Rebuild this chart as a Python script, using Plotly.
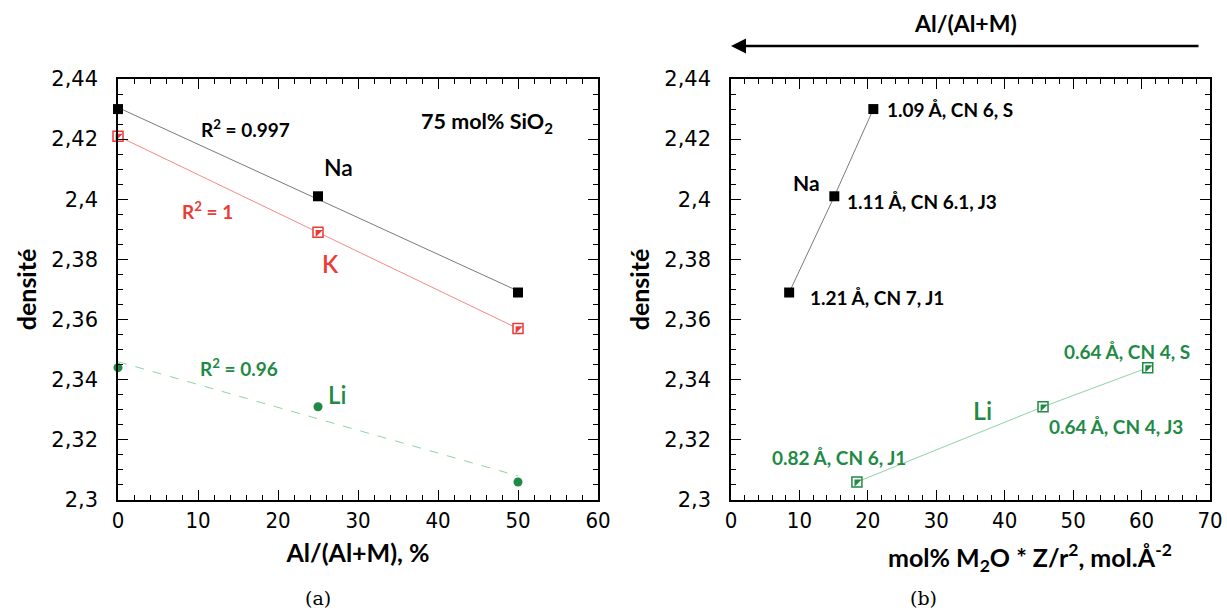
import numpy as np
import plotly.graph_objects as go

# ---------------- data ----------------
al_frac = [0, 25, 50]                       # Al/(Al+M), %
na_dens = [2.430, 2.401, 2.369]
k_dens = [2.421, 2.389, 2.357]
li_dens = [2.344, 2.331, 2.306]

na_field = [8.5, 15.1, 20.8]                # mol% M2O * Z/r^2
li_field = [18.4, 45.6, 60.9]

na_labels = ["1.21 Å, CN 7, J1", "1.11 Å, CN 6.1, J3", "1.09 Å, CN 6, S"]
li_labels = ["0.82 Å, CN 6, J1", "0.64 Å, CN 4, J3", "0.64 Å, CN 4, S"]

y_tickvals = [2.3, 2.32, 2.34, 2.36, 2.38, 2.4, 2.42, 2.44]
y_ticktext = ["2,3", "2,32", "2,34", "2,36", "2,38", "2,4", "2,42", "2,44"]

# ---------------- style ----------------
BLACK = "#000000"
RED = "#ee3a36"
GREEN = "#1f8a45"
W, H = 1227, 610
BOLD = "Lato"
NARROW = "Liberation Sans Narrow, DejaVu Sans Condensed, Roboto, sans-serif"


def px(x):
    return x / W


def py(y):
    return 1 - y / H


fig = go.Figure()


def fit_line(x, y):
    c = np.polyfit(x, y, 1)
    xs = np.array([min(x), max(x)], dtype=float)
    return xs, np.polyval(c, xs)


# ---- panel (a) ----
for ys, lc, dash in [(na_dens, "#7a7a7a", "solid"), (k_dens, "#f58a85", "solid"),
                     (li_dens, "#8fd3a0", "dash")]:
    xs, yf = fit_line(al_frac, ys)
    fig.add_trace(go.Scatter(x=xs, y=yf, mode="lines", xaxis="x", yaxis="y",
                             line=dict(color=lc, width=1, dash=dash), showlegend=False,
                             hoverinfo="skip"))

fig.add_trace(go.Scatter(x=al_frac, y=na_dens, mode="markers", xaxis="x", yaxis="y",
                         cliponaxis=False,
                         marker=dict(symbol="square", size=10, color=BLACK), showlegend=False))
fig.add_trace(go.Scatter(x=al_frac, y=k_dens, mode="markers", xaxis="x", yaxis="y",
                         cliponaxis=False,
                         marker=dict(symbol="square", size=10, color="white",
                                     line=dict(color=RED, width=1.5)), showlegend=False))
fig.add_trace(go.Scatter(x=al_frac, y=k_dens, mode="markers", xaxis="x", yaxis="y",
                         cliponaxis=False,
                         marker=dict(symbol="triangle-nw", size=8, color=RED,
                                     line=dict(width=0)), showlegend=False))
fig.add_trace(go.Scatter(x=al_frac, y=li_dens, mode="markers", xaxis="x", yaxis="y",
                         cliponaxis=False,
                         marker=dict(symbol="circle", size=9, color=GREEN), showlegend=False))

# ---- panel (b) ----
fig.add_trace(go.Scatter(x=na_field, y=na_dens[::-1], mode="lines+markers", xaxis="x2", yaxis="y2",
                         line=dict(color="#7a7a7a", width=1),
                         marker=dict(symbol="square", size=10, color=BLACK), showlegend=False))
fig.add_trace(go.Scatter(x=li_field, y=li_dens[::-1], mode="lines", xaxis="x2", yaxis="y2",
                         line=dict(color="#8fd3a0", width=1), showlegend=False))
fig.add_trace(go.Scatter(x=li_field, y=li_dens[::-1], mode="markers", xaxis="x2", yaxis="y2",
                         marker=dict(symbol="square", size=10, color="white",
                                     line=dict(color=GREEN, width=1.5)), showlegend=False))
fig.add_trace(go.Scatter(x=li_field, y=li_dens[::-1], mode="markers", xaxis="x2", yaxis="y2",
                         marker=dict(symbol="triangle-nw", size=8, color=GREEN,
                                     line=dict(width=0)), showlegend=False))

y_minor = np.round(np.arange(2.3, 2.4401, 0.005), 4)

common_x = dict(showline=True, linecolor=BLACK, linewidth=1.5, mirror="allticks",
                ticks="inside", ticklen=10, tickwidth=1.2, tickcolor=BLACK,
                showgrid=False, zeroline=False, automargin=False,
                tickfont=dict(family=NARROW, size=22, color=BLACK),
                minor=dict(ticks="inside", ticklen=5, dtick=2, tickcolor=BLACK, tickwidth=1,
                           showgrid=False))
common_y = dict(showline=True, linecolor=BLACK, linewidth=1.5, mirror="allticks",
                ticks="inside", ticklen=10, tickwidth=1.2, tickcolor=BLACK,
                showgrid=False, zeroline=False, range=[2.3, 2.44], automargin=False,
                tickmode="array", tickvals=y_tickvals, ticktext=y_ticktext,
                tickfont=dict(family="DejaVu Sans", size=21, color=BLACK),
                minor=dict(ticks="inside", ticklen=5, tickmode="array", tickvals=y_minor,
                           tickcolor=BLACK, tickwidth=1, showgrid=False),
                ticklabelstandoff=14)

title_font = dict(family=BOLD, size=25, color=BLACK, weight="bold")

fig.update_layout(
    width=W, height=H,
    margin=dict(l=0, r=0, t=0, b=0, autoexpand=False),
    paper_bgcolor="white", plot_bgcolor="white",
    xaxis=dict(common_x, domain=[px(118), px(598)], range=[0, 60], dtick=10,
               anchor="y",
               title=dict(text="Al/(Al+M), %", font=title_font, standoff=12)),
    yaxis=dict(common_y, domain=[py(500), py(79)], anchor="x",
               title=dict(text="densité", font=title_font, standoff=8)),
    xaxis2=dict(common_x, domain=[px(731), px(1210)], range=[0, 70], dtick=10,
                anchor="y2"),
    yaxis2=dict(common_y, domain=[py(500), py(79)], anchor="x2",
                title=dict(text="densité", font=title_font, standoff=8)),
)

ann = []


def txt(x, y, t, color, size, xref="x", yref="y", xanchor="center", weight="bold", family=BOLD):
    ann.append(dict(x=x, y=y, xref=xref, yref=yref, text=t, showarrow=False,
                    xanchor=xanchor, yanchor="middle",
                    font=dict(family=family, size=size, color=color, weight=weight)))


# panel (a) labels
txt(15.9, 2.4237, "R<sup>2</sup> = 0.997", BLACK, 19)
txt(46.1, 2.4255, "75 mol% SiO<sub>2</sub>", BLACK, 21.5)
txt(27.5, 2.4106, "Na", BLACK, 23, weight=600)
txt(11.2, 2.3964, "R<sup>2</sup> = 1", RED, 19)
txt(26.5, 2.3788, "K", RED, 24, weight=600)
txt(15.1, 2.3439, "R<sup>2</sup> = 0.96", GREEN, 19)
txt(27.4, 2.3352, "Li", GREEN, 24, weight=600)

# panel (b) labels
na_lab_pos = [(11.3, 2.3675), (16.7, 2.3993), (22.5, 2.4298)]
li_lab_pos = [(5.7, 2.3143), (46.2, 2.3243), (48.4, 2.3494)]
for (x, y), t in zip(na_lab_pos, na_labels):
    txt(x, y, t, BLACK, 19, xref="x2", yref="y2", xanchor="left")
for (x, y), t in zip(li_lab_pos, li_labels):
    txt(x, y, t, GREEN, 19, xref="x2", yref="y2", xanchor="left")
txt(11.0, 2.4055, "Na", BLACK, 21, xref="x2", yref="y2")
txt(36.8, 2.3300, "Li", GREEN, 25, xref="x2", yref="y2", weight=600)

# right x-axis title (offset to the right as in the original)
txt(px(1030), py(557), "mol% M<sub>2</sub>O * Z/r<sup>2</sup>, mol.Å<sup>-2</sup>", BLACK, 25,
    xref="paper", yref="paper")

# arrow at top
ann.append(dict(x=px(731), y=py(46), xref="paper", yref="paper", ax=469, ay=0,
                text="", showarrow=True, arrowhead=2, arrowsize=1.2, arrowwidth=2.5,
                arrowcolor=BLACK))
txt(px(965), py(23), "Al/(Al+M)", BLACK, 23, xref="paper", yref="paper")

# captions
txt(px(318), py(598), "(a)", BLACK, 19, xref="paper", yref="paper", weight="normal",
    family="DejaVu Serif")
txt(px(923), py(598), "(b)", BLACK, 19, xref="paper", yref="paper", weight="normal",
    family="DejaVu Serif")

fig.update_layout(annotations=ann)
fig.write_html("out.html", config={"displayModeBar": False},
               post_script="document.body.style.margin='0';")
